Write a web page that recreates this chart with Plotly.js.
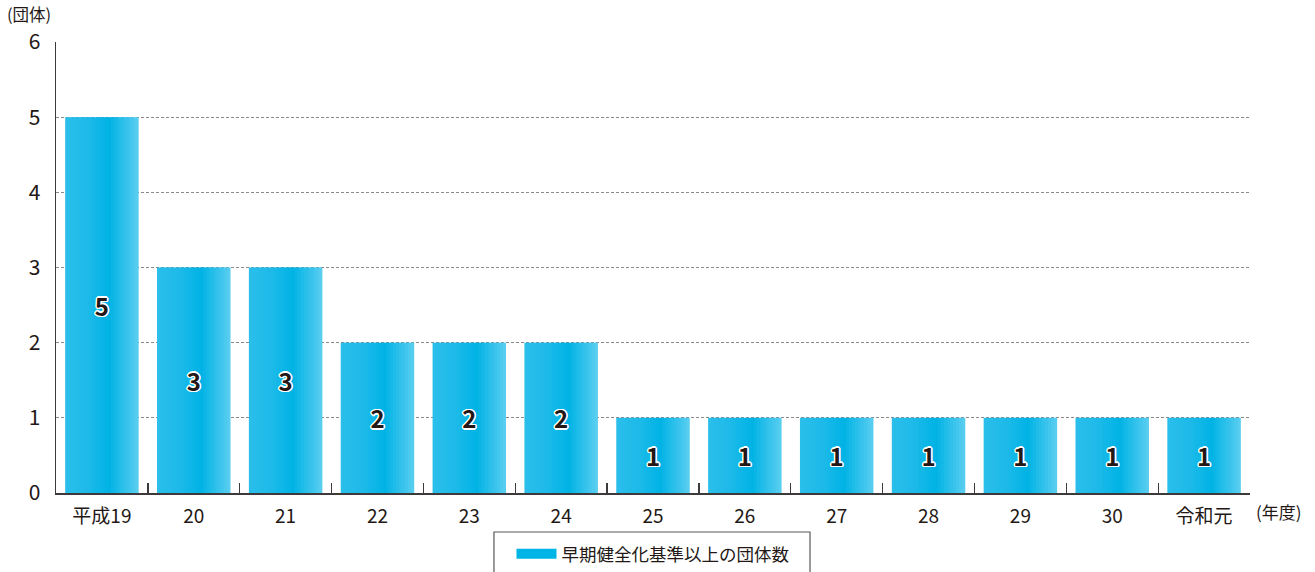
<!DOCTYPE html>
<html>
<head>
<meta charset="utf-8">
<script src="https://cdn.plot.ly/plotly-3.0.1.min.js"></script>
<style>html,body{margin:0;padding:0;background:#fff;}#chart{width:1315px;height:572px;}</style>
</head>
<body>
<div id="chart"></div>
<script>
const categories = ["平成19","20","21","22","23","24","25","26","27","28","29","30","令和元"];
const counts = [5,3,3,2,2,2,1,1,1,1,1,1,1];
const seriesName = "早期健全化基準以上の団体数";
const yTicks = [0,1,2,3,4,5,6];

const FONT = '"Noto Sans CJK JP", "Noto Sans", sans-serif';
const TXT = '#231815';

// horizontal gradient of each bar, drawn as thin overlaid strips
const stops = [[0,[43,190,234]],[0.3,[30,186,233]],[0.6,[0,179,229]],[1,[92,206,241]]];
function colAt(t){
  for(let i=0;i<stops.length-1;i++){
    const [a,ca]=stops[i],[b,cb]=stops[i+1];
    if(t>=a&&t<=b){const f=(t-a)/(b-a);
      const c=ca.map((v,k)=>Math.round(v+(cb[k]-v)*f));
      return `rgb(${c[0]},${c[1]},${c[2]})`;}
  }
  return 'rgb(92,206,241)';
}
const BW = 0.8, N = 24, sw = BW/N;
const traces = [];
for(let i=0;i<N;i++){
  const last = (i===N-1);
  traces.push({type:'bar',x:categories,y:counts,offset:-BW/2+i*sw,width:last?sw:sw*1.6,
    marker:{color:colAt((i+0.5)/N),line:{width:0}},showlegend:false,hoverinfo:'skip'});
}
traces.push({type:'bar',x:categories,y:counts,width:BW,name:seriesName,showlegend:false,
  marker:{color:'rgba(0,0,0,0)',line:{width:0}},
  text:counts.map(String),textposition:'inside',insidetextanchor:'middle',
  textangle:0,constraintext:'none',
  insidetextfont:{family:FONT,size:24,color:TXT,weight:700,
    shadow:'1.5px 0 0 #fff,-1.5px 0 0 #fff,0 1.5px 0 #fff,0 -1.5px 0 #fff,1px 1px 0 #fff,-1px -1px 0 #fff,1px -1px 0 #fff,-1px 1px 0 #fff'}});
// legend entry
traces.push({type:'scatter',mode:'lines',x:[categories[0]],y:[null],name:seriesName,
  line:{color:'#00B4E6',width:15},showlegend:true,hoverinfo:'skip'});

const layout = {
  width:1315,height:572,
  margin:{l:56,r:65,t:42,b:79,autoexpand:false},
  paper_bgcolor:'#fff',plot_bgcolor:'#fff',
  barmode:'overlay',
  font:{family:FONT,color:TXT},
  xaxis:{type:'category',tickson:'boundaries',ticks:'inside',ticklen:10,tickwidth:1.3,tickcolor:'#3e3a39',
    showline:true,linecolor:'#3e3a39',linewidth:1.5,showgrid:false,tickangle:0,
    ticklabelstandoff:6,
    tickfont:{family:FONT,size:19,color:TXT},range:[-0.5,12.5],fixedrange:true},
  yaxis:{range:[0,6],tickvals:yTicks,ticktext:yTicks.map(String),showline:true,linecolor:'#3e3a39',linewidth:1.3,
    showgrid:true,gridcolor:'#8a8a8a',griddash:'3px,2px',gridwidth:1,zeroline:false,ticks:'',
    ticklabelstandoff:10,tickfont:{family:FONT,size:21,color:TXT},fixedrange:true},
  showlegend:true,
  legend:{orientation:'h',x:0.5,xanchor:'center',y:-0.095,yanchor:'top',
    borderwidth:0,bgcolor:'rgba(0,0,0,0)',
    font:{family:FONT,size:17.5,color:TXT},itemwidth:40},
  shapes:[
    {type:'rect',xref:'paper',yref:'paper',x0:0.3668,x1:0.6315,y0:-0.0865,y1:-0.3,
      line:{color:'#595757',width:1.2},fillcolor:'rgba(0,0,0,0)',layer:'below'}
  ],
  annotations:[
    {text:'(団体)',xref:'paper',yref:'paper',x:-0.043,y:1.0,yshift:28,xanchor:'left',yanchor:'middle',showarrow:false,
      font:{family:FONT,size:16.5,color:TXT}},
    {text:'(年度)',xref:'paper',yref:'paper',x:1.0,xshift:4,y:0,yshift:-18,xanchor:'left',yanchor:'middle',showarrow:false,
      font:{family:FONT,size:17,color:TXT}}
  ]
};
Plotly.newPlot('chart',traces,layout,{displayModeBar:false,staticPlot:true});
</script>
</body>
</html>
